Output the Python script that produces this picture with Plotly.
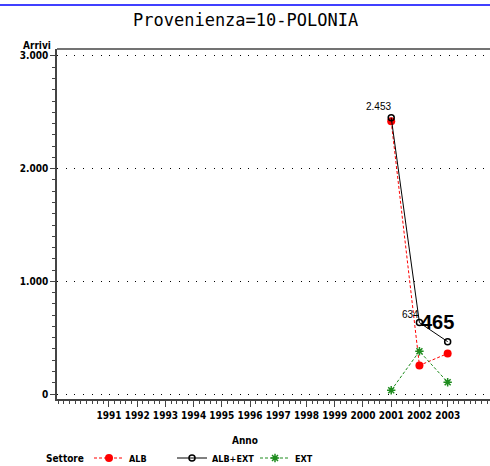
import plotly.graph_objects as go

# data
anni = [2001, 2002, 2003]
alb = [2420, 254, 360]
alb_ext = [2453, 634, 465]
ext = [33, 380, 105]
tick_anni = list(range(1991, 2004))
tick_arrivi = [0, 1000, 2000, 3000]

narrow = "Liberation Sans Narrow, DejaVu Sans Condensed, Arial Narrow, sans-serif"
dots = "1px,7.7px"


def fmt(v):
    return f"{v:,}".replace(",", ".")


fig = go.Figure()
fig.add_trace(go.Scatter(
    x=anni, y=alb, name="ALB", mode="lines+markers",
    line=dict(color="#ff0000", width=1, dash="3px,2px"),
    marker=dict(symbol="circle", size=8, color="#ff0000"),
))
fig.add_trace(go.Scatter(
    x=anni, y=alb_ext, name="ALB+EXT", mode="lines+markers",
    line=dict(color="#000000", width=1),
    marker=dict(symbol="circle-open", size=6, color="#000000",
                line=dict(width=1.5)),
))
fig.add_trace(go.Scatter(
    x=anni, y=ext, name="EXT", mode="lines+markers",
    line=dict(color="#1e8c1e", width=1, dash="3px,2px"),
    marker=dict(symbol="asterisk-open", size=7, color="#1e8c1e",
                line=dict(width=1.5, color="#1e8c1e")),
))

# point labels
fig.add_annotation(x=anni[0], y=alb_ext[0], text=fmt(alb_ext[0]),
                   showarrow=False, xanchor="right", yanchor="middle",
                   xshift=2, yshift=11,
                   font=dict(family="Liberation Sans, Arial", size=10, color="black"))
fig.add_annotation(x=anni[1], y=alb_ext[1], text=fmt(alb_ext[1]),
                   showarrow=False, xanchor="right", yanchor="middle",
                   xshift=2, yshift=8,
                   font=dict(family="Liberation Sans, Arial", size=10, color="black"))
fig.add_annotation(x=anni[1], y=alb_ext[1], text=fmt(alb_ext[2]),
                   showarrow=False, xanchor="left", yanchor="middle",
                   xshift=0, yshift=1,
                   font=dict(family="Liberation Sans, Arial", size=20,
                             color="black", weight="bold"))

# title, axis names, legend name
fig.add_annotation(xref="paper", yref="paper", x=(245 - 57) / 433, y=(399 - 20) / 350,
                   text="Provenienza=10-POLONIA", showarrow=False,
                   xanchor="center", yanchor="middle",
                   font=dict(family="DejaVu Sans Mono", size=17, color="black"))
fig.add_annotation(xref="paper", yref="paper", x=(53 - 57) / 433, y=(399 - 45) / 350,
                   text="Arrivi", showarrow=False, xanchor="right", yanchor="middle",
                   font=dict(family=narrow, size=10, color="black", weight="bold"))
fig.add_annotation(xref="paper", yref="paper", x=(245 - 57) / 433, y=(399 - 440) / 350,
                   text="Anno", showarrow=False, xanchor="center", yanchor="middle",
                   font=dict(family=narrow, size=10, color="black", weight="bold"))
fig.add_annotation(xref="paper", yref="paper", x=(44 - 57) / 433, y=(399 - 458) / 350,
                   text="Settore", showarrow=False, xanchor="left", yanchor="middle",
                   font=dict(family=narrow, size=10, color="black", weight="bold"))

# blue rule at the top and the top frame line
fig.add_shape(type="line", xref="paper", yref="paper",
              x0=-57 / 433, x1=1, y0=(399 - 5) / 350, y1=(399 - 5) / 350,
              line=dict(color="#0000ff", width=1.5))
fig.add_shape(type="line", xref="paper", yref="paper",
              x0=0, x1=1, y0=1, y1=1, line=dict(color="#444444", width=1.5))

fig.update_xaxes(
    range=[1989.16, 2004.5], tickvals=tick_anni, tickangle=0, automargin=False,
    ticks="outside", ticklen=6, tickwidth=1, tickcolor="#444444",
    minor=dict(dtick=0.2, ticks="outside", ticklen=3, tickcolor="#444444"),
    showline=True, linecolor="#444444", linewidth=1.5, showgrid=False,
    zeroline=False,
    tickfont=dict(family=narrow, size=10, color="black", weight="bold"),
)
fig.update_yaxes(
    range=[-44, 3062], tickvals=tick_arrivi, tickformat=",d", automargin=False,
    ticks="outside", ticklen=5, tickwidth=1, tickcolor="#444444",
    minor=dict(dtick=100, ticks="outside", ticklen=3, tickcolor="#444444",
               showgrid=False),
    showline=True, linecolor="#444444", linewidth=1.5,
    showgrid=True, gridcolor="#000000", gridwidth=1, griddash=dots,
    zeroline=False,
    tickfont=dict(family=narrow, size=10, color="black", weight="bold"),
)

fig.update_layout(
    width=490, height=466,
    margin=dict(l=57, r=0, t=49, b=67, autoexpand=False),
    paper_bgcolor="white", plot_bgcolor="white",
    separators=",.",
    showlegend=True,
    legend=dict(
        orientation="h", x=(89 - 57) / 433, y=(399 - 458) / 350,
        xanchor="left", yanchor="middle",
        font=dict(family=narrow, size=9, color="black", weight="bold"),
        entrywidth=38, entrywidthmode="pixels", itemwidth=30,
        bgcolor="rgba(0,0,0,0)",
    ),
)

# the page's default body margin would push the chart 8px down and right
fig.write_html("out.html", config={"displayModeBar": False},
               post_script="document.body.style.margin='0';")
